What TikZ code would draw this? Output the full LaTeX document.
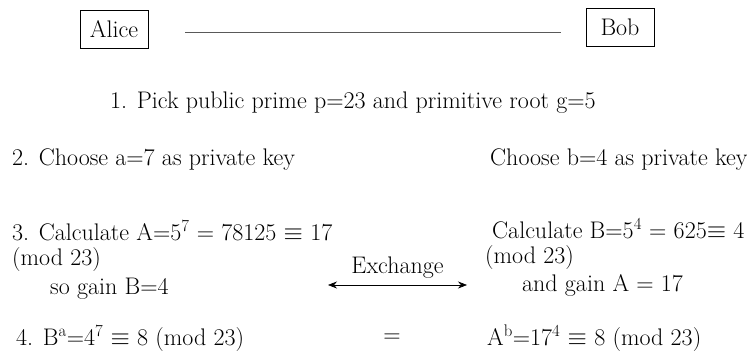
\documentclass[tikz,border=0pt]{standalone}
\usetikzlibrary{positioning,arrows.meta}

\begin{document}
\begin{tikzpicture}[x=1pt, y=1pt, font=\fontsize{24}{25}\selectfont,
    >={Stealth[length=9pt, width=7pt, inset=3pt]}]
    \useasboundingbox (0,0) rectangle (747,-352);
    \tikzset{party/.style={draw, thick, inner sep=4pt, minimum width=68pt, minimum height=38pt},
      step text/.style={anchor=west, inner sep=0pt, align=left}}
    \node[party] (alice) at (114,-29) {Alice};
    \node[party] (bob) at (620,-27) {Bob};
    \node[step text] (public) at (110,-103)
      {1. Pick public prime p=23 and primitive root g=5};
    \node[step text] (achoose) at (12,-160) {2. Choose a=7 as private key};
    \node[step text] (bchoose) at (490,-160) {Choose b=4 as private key};
    \node[step text, anchor=north west] (acalc) at (12,-220)
      {3. Calculate A=5\textsuperscript{7} = 78125 $\equiv$ 17\\
       (mod 23)\\[4pt]
       \hspace{38pt}so gain B=4};
    \node[step text, anchor=north west] (bcalc) at (485,-218)
      {\hspace{7pt}Calculate B=5\textsuperscript{4} = 625$\equiv$ 4\\
       (mod 23)\\[3pt]
       \hspace{37pt}and gain A = 17};
    \node[step text] (asecret) at (16,-338)
      {4. B\textsuperscript{a}=4\textsuperscript{7} $\equiv$ 8 (mod 23)};
    \node (same) at (392,-338) {=};
    \node[step text] (bsecret) at (487,-338)
      {A\textsuperscript{b}=17\textsuperscript{4} $\equiv$ 8 (mod 23)};
    \coordinate (xleft) at (328,-285);
    \coordinate (xright) at (467,-285);
    \draw[semithick, gray!70!black, shorten <=37pt, shorten >=25pt]
      ([yshift=-3pt]alice.east) -- ([yshift=-3pt]alice.east -| bob.west);
    \draw[<->, semithick] (xleft) -- node[above=3pt] (exchange) {Exchange} (xright);
  \end{tikzpicture}
\end{document}
